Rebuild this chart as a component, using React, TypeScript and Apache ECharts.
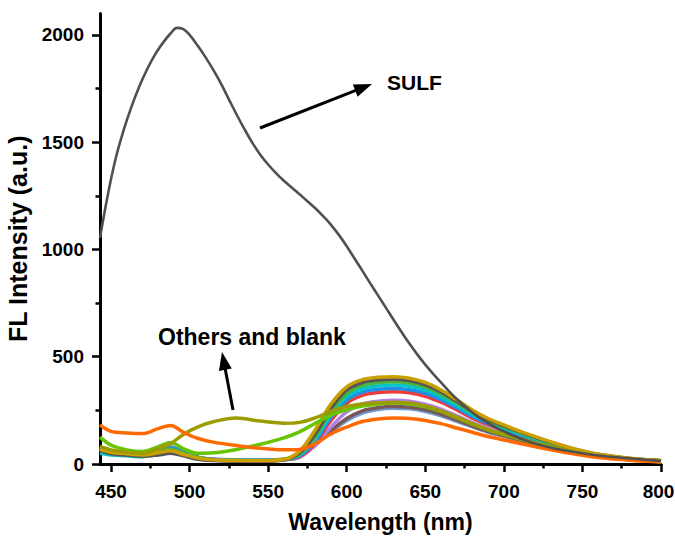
import React, { useEffect, useRef } from "react";
import * as echarts from "echarts";

const FONT = '"Liberation Sans", Arial, sans-serif';

// shared wavelength grid (nm) for the "others and blank" spectra
const wavelength = [443, 450, 460, 470, 480, 488, 496, 505, 515, 530, 545, 560, 570, 580, 590, 600, 610, 620, 630, 640, 650, 660, 670, 680, 690, 700, 715, 730, 745, 760, 780, 800];

const goldY = [70, 55, 48, 42, 52, 62, 45, 28, 20, 16, 15, 22, 60, 160, 280, 360, 393, 404, 407, 400, 380, 345, 300, 252, 212, 182, 140, 103, 70, 46, 27, 16];
const darkGrayY = [62, 48, 42, 36, 42, 50, 38, 22, 16, 13, 13, 20, 52, 140, 260, 345, 380, 392, 395, 389, 369, 336, 292, 246, 207, 178, 137, 101, 69, 45, 26, 16];
const greenY = [80, 62, 52, 45, 58, 70, 50, 30, 20, 17, 16, 21, 46, 128, 245, 328, 366, 379, 383, 377, 358, 326, 284, 239, 202, 173, 134, 98, 67, 44, 26, 15];
const cyanY = [50, 42, 38, 34, 50, 64, 46, 27, 19, 16, 15, 21, 42, 118, 230, 313, 350, 364, 368, 362, 344, 313, 273, 231, 195, 168, 129, 96, 65, 43, 25, 15];
const blueY = [65, 52, 45, 40, 60, 76, 55, 32, 22, 18, 17, 21, 38, 108, 218, 298, 335, 348, 352, 346, 330, 300, 262, 222, 188, 162, 125, 92, 63, 41, 24, 14];
const redY = [60, 50, 44, 38, 52, 66, 48, 28, 19, 16, 15, 20, 35, 98, 203, 283, 320, 333, 337, 332, 316, 288, 252, 214, 182, 157, 121, 90, 61, 40, 24, 14];
const purpleY = [68, 54, 46, 40, 56, 70, 50, 29, 20, 17, 16, 20, 32, 88, 172, 243, 280, 293, 297, 293, 279, 256, 225, 193, 164, 142, 110, 82, 56, 37, 22, 13];
const brownY = [75, 58, 50, 42, 58, 72, 52, 30, 21, 17, 16, 21, 32, 88, 155, 212, 248, 263, 268, 265, 253, 232, 205, 177, 152, 132, 103, 76, 53, 34, 21, 12];
const blueGrayY = [72, 56, 48, 41, 62, 80, 58, 33, 23, 19, 18, 22, 34, 90, 150, 202, 237, 254, 260, 257, 245, 225, 199, 173, 148, 129, 100, 75, 52, 34, 20, 11];
const limeY = [125, 88, 66, 58, 80, 100, 72, 50, 52, 68, 92, 122, 150, 190, 228, 252, 270, 280, 284, 280, 267, 245, 216, 186, 158, 137, 107, 79, 55, 36, 21, 12];
const oliveY = [82, 66, 56, 50, 72, 95, 138, 172, 197, 214, 200, 190, 194, 215, 246, 268, 280, 286, 288, 284, 271, 248, 219, 188, 160, 139, 108, 80, 55, 36, 21, 12];
const orangeY = [182, 152, 145, 142, 165, 180, 148, 120, 102, 86, 73, 66, 68, 95, 140, 172, 198, 210, 214, 212, 203, 188, 168, 148, 128, 112, 88, 66, 46, 30, 18, 10];

// SULF spectrum
const sulfWavelength = [443, 448, 453, 458, 463, 468, 473, 478, 483, 488, 492, 496, 500, 505, 510, 515, 520, 525, 530, 535, 540, 545, 550, 555, 560, 565, 570, 575, 580, 585, 590, 595, 600, 605, 610, 615, 620, 625, 630, 635, 640, 645, 650, 655, 660, 665, 670, 675, 680, 685, 690, 695, 700, 710, 720, 730, 745, 760, 775, 790, 800];
const sulfIntensity = [1054, 1255, 1425, 1555, 1665, 1760, 1840, 1908, 1963, 2008, 2033, 2027, 2000, 1952, 1898, 1838, 1773, 1700, 1628, 1560, 1497, 1442, 1396, 1356, 1320, 1289, 1257, 1225, 1192, 1155, 1115, 1068, 1015, 958, 900, 842, 785, 728, 670, 614, 560, 510, 463, 420, 380, 340, 303, 270, 240, 213, 190, 170, 152, 120, 95, 76, 56, 40, 29, 20, 14];

// axis ticks
const xMajorTicks = [450, 500, 550, 600, 650, 700, 750, 800];
const xMinorTicks = [475, 525, 575, 625, 675, 725, 775];
const yMajorTicks = [0, 500, 1000, 1500, 2000];
const yMinorTicks = [250, 750, 1250, 1750];

const otherSeries: { name: string; color: string; values: number[] }[] = [
  { name: "blue-gray", color: "#6c9dd6", values: blueGrayY },
  { name: "brown", color: "#7a5656", values: brownY },
  { name: "purple", color: "#b47fe6", values: purpleY },
  { name: "red", color: "#f03a3a", values: redY },
  { name: "blue", color: "#1e8fe6", values: blueY },
  { name: "cyan", color: "#00c4cc", values: cyanY },
  { name: "green", color: "#4cb33c", values: greenY },
  { name: "dark-gray", color: "#555555", values: darkGrayY },
  { name: "gold", color: "#c9a000", values: goldY },
  { name: "lime", color: "#66c400", values: limeY },
  { name: "olive", color: "#9c9c00", values: oliveY },
  { name: "orange", color: "#ff6a00", values: orangeY },
];

function arrow(x1: number, y1: number, tx: number, ty: number, head: number, half: number) {
  const dx = tx - x1;
  const dy = ty - y1;
  const len = Math.sqrt(dx * dx + dy * dy);
  const ux = dx / len;
  const uy = dy / len;
  const bx = tx - head * ux;
  const by = ty - head * uy;
  const nx = -uy;
  const ny = ux;
  return [
    { type: "line", shape: { x1, y1, x2: bx + ux * 2, y2: by + uy * 2 }, style: { stroke: "#000", lineWidth: 3 } },
    {
      type: "polygon",
      shape: { points: [[tx, ty], [bx + half * nx, by + half * ny], [bx - half * nx, by - half * ny]] },
      style: { fill: "#000" },
    },
  ];
}

export default function App() {
  const ref = useRef<HTMLDivElement>(null);
  useEffect(() => {
    if (!ref.current) return;
    const chart = echarts.init(ref.current, null, { renderer: "svg" });
    const labelStyle = { fontFamily: FONT, fontWeight: "bold", color: "#000" };
    const series: any[] = otherSeries.map((s) => ({
      name: s.name,
      type: "line",
      xAxisIndex: 0,
      yAxisIndex: 0,
      showSymbol: false,
      smooth: 0.35,
      lineStyle: { width: 3.5, color: s.color },
      itemStyle: { color: s.color },
      data: wavelength.map((w, i) => [w, s.values[i]]),
    }));
    series.push({
      name: "SULF",
      type: "line",
      xAxisIndex: 0,
      yAxisIndex: 0,
      showSymbol: false,
      smooth: 0.4,
      lineStyle: { width: 2.6, color: "#505050" },
      itemStyle: { color: "#505050" },
      data: sulfWavelength.map((w, i) => [w, sulfIntensity[i]]),
    });
    chart.setOption({
      animation: false,
      backgroundColor: "#fff",
      grid: { left: 100, right: 14, top: 13.5, bottom: 72, containLabel: false, outerBoundsMode: "none" },
      xAxis: [
        {
          type: "value",
          min: 443,
          max: 800,
          name: "Wavelength (nm)",
          nameLocation: "middle",
          nameGap: 46,
          nameTextStyle: { ...labelStyle, fontSize: 23 },
          axisLine: { show: true, onZero: false, lineStyle: { color: "#000", width: 3 } },
          axisTick: { show: true, length: 8, customValues: xMajorTicks, lineStyle: { color: "#000", width: 2.5 } },
          axisLabel: {
            ...labelStyle,
            fontSize: 19,
            margin: 18,
            customValues: xMajorTicks,
            formatter: (v: number) => (v === 800 ? "{e|800}" : String(v)),
            rich: { e: { fontFamily: FONT, fontWeight: "bold", fontSize: 19, color: "#000", padding: [0, 5, 0, 0] } },
          },
          splitLine: { show: false },
        },
        {
          type: "value",
          min: 443,
          max: 800,
          position: "bottom",
          axisLine: { show: false, onZero: false },
          axisTick: { show: true, length: 4.5, customValues: xMinorTicks, lineStyle: { color: "#000", width: 2.5 } },
          axisLabel: { show: false },
          splitLine: { show: false },
        },
      ],
      yAxis: [
        {
          type: "value",
          min: 0,
          max: 2100,
          name: "FL Intensity (a.u.)",
          nameLocation: "middle",
          nameGap: 52,
          nameTextStyle: { ...labelStyle, fontSize: 25 },
          axisLine: { show: true, onZero: false, lineStyle: { color: "#000", width: 3 } },
          axisTick: { show: true, length: 8, customValues: yMajorTicks, lineStyle: { color: "#000", width: 2.5 } },
          axisLabel: { ...labelStyle, fontSize: 19, margin: 16, customValues: yMajorTicks, formatter: (v: number) => String(v) },
          splitLine: { show: false },
        },
        {
          type: "value",
          min: 0,
          max: 2100,
          position: "left",
          axisLine: { show: false, onZero: false },
          axisTick: { show: true, length: 4.5, customValues: yMinorTicks, lineStyle: { color: "#000", width: 2.5 } },
          axisLabel: { show: false },
          splitLine: { show: false },
        },
      ],
      series,
      graphic: [
        {
          type: "text",
          x: 387,
          y: 82,
          style: { text: "SULF", fill: "#000", fontSize: 21, fontWeight: "bold", fontFamily: FONT, textAlign: "left", textVerticalAlign: "middle" },
        },
        {
          type: "text",
          x: 158,
          y: 337,
          style: { text: "Others and blank", fill: "#000", fontSize: 23, fontWeight: "bold", fontFamily: FONT, textAlign: "left", textVerticalAlign: "middle" },
        },
        ...arrow(260, 128, 372, 84, 18, 6.5),
        ...arrow(233, 410, 222, 352, 18, 6.5),
      ],
    });
    return () => chart.dispose();
  }, []);
  return <div ref={ref} style={{ position: "fixed", left: 0, top: 0, width: 675, height: 536 }} />;
}
